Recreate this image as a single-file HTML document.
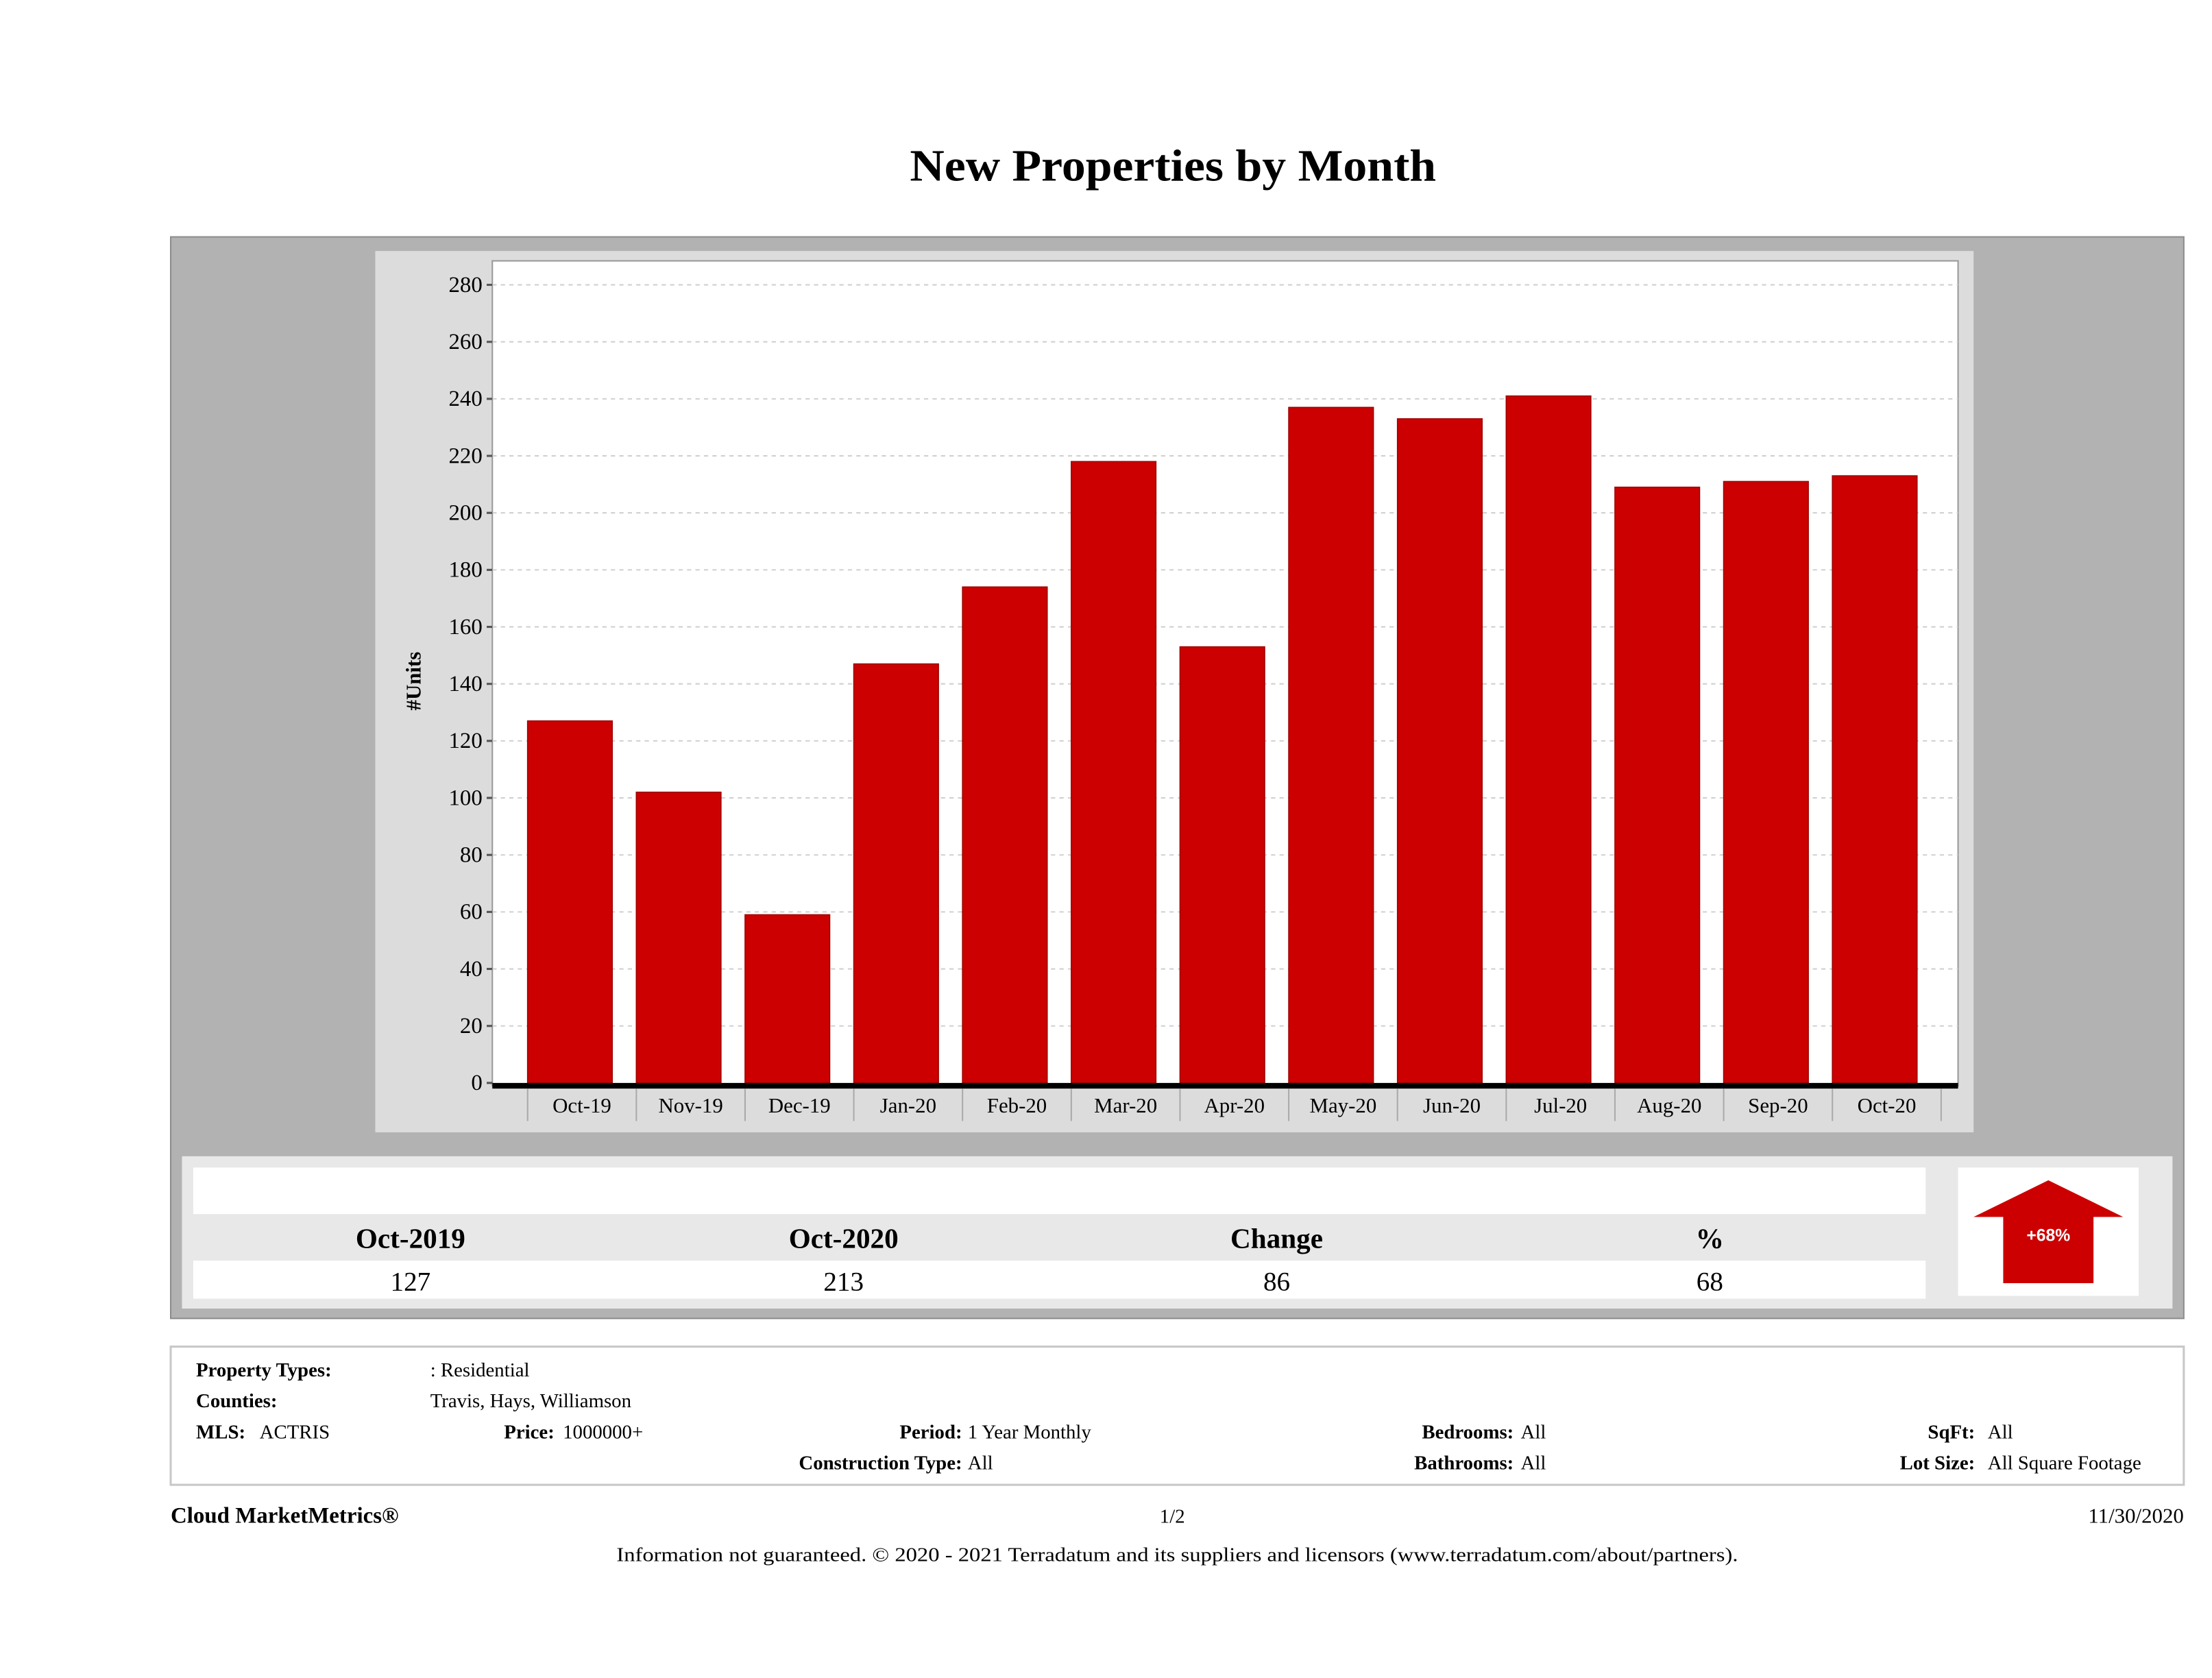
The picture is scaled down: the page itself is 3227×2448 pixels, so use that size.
<!DOCTYPE html>
<html><head><meta charset="utf-8"><style>
html,body{margin:0;padding:0;background:#fff;}
svg{display:block;font-family:"Liberation Serif",serif;}
</style></head><body>
<svg id="chart" width="3227" height="2448" viewBox="0 0 1568 1190" preserveAspectRatio="none" xmlns="http://www.w3.org/2000/svg">
<text x="645" y="128" textLength="373" lengthAdjust="spacingAndGlyphs" font-size="32" font-weight="bold">New Properties by Month</text>
<rect x="121" y="168" width="1427" height="767" fill="#b2b2b2" stroke="#8c8c8c" stroke-width="1"/>
<rect x="266" y="178" width="1133" height="625" fill="#dcdcdc"/>
<rect x="349" y="185" width="1039" height="585" fill="#fff" stroke="#999" stroke-width="1"/>
<g id="grid"></g>
<g id="bars"></g>
<g id="xaxis"></g>
<text transform="translate(298,483) rotate(-90)" text-anchor="middle" font-size="15" font-weight="bold">#Units</text>

<rect x="129" y="820" width="1411" height="108" fill="#e8e8e8"/>
<rect x="137" y="828" width="1228" height="33" fill="#fff"/>
<rect x="137" y="894" width="1228" height="27" fill="#fff"/>
<g font-size="20" font-weight="bold" text-anchor="middle">
<text x="291" y="885">Oct-2019</text>
<text x="598" y="885">Oct-2020</text>
<text x="905" y="885">Change</text>
<text x="1212" y="885">%</text>
</g>
<g font-size="19" text-anchor="middle">
<text x="291" y="915">127</text>
<text x="598" y="915">213</text>
<text x="905" y="915">86</text>
<text x="1212" y="915">68</text>
</g>
<rect x="1388" y="828" width="128" height="91" fill="#fff"/>
<polygon points="1452,837 1505,863 1484,863 1484,910 1420,910 1420,863 1399,863" fill="#cc0000"/>
<text x="1452" y="880" text-anchor="middle" font-size="12" font-weight="bold" fill="#fff" font-family="Liberation Sans, sans-serif">+68%</text>

<rect x="121" y="955" width="1427" height="98" fill="#fff" stroke="#c8c8c8" stroke-width="1.5"/>
<g font-size="14">
<text x="139" y="976" font-weight="bold">Property Types:</text>
<text x="305" y="976">: Residential</text>
<text x="139" y="998" font-weight="bold">Counties:</text>
<text x="305" y="998">Travis, Hays, Williamson</text>
<text x="139" y="1020" font-weight="bold">MLS:</text>
<text x="184" y="1020">ACTRIS</text>
<text x="393" y="1020" font-weight="bold" text-anchor="end">Price:</text>
<text x="399" y="1020">1000000+</text>
<text x="682" y="1020" font-weight="bold" text-anchor="end">Period:</text>
<text x="686" y="1020">1 Year Monthly</text>
<text x="682" y="1042" font-weight="bold" text-anchor="end">Construction Type:</text>
<text x="686" y="1042">All</text>
<text x="1073" y="1020" font-weight="bold" text-anchor="end">Bedrooms:</text>
<text x="1078" y="1020">All</text>
<text x="1073" y="1042" font-weight="bold" text-anchor="end">Bathrooms:</text>
<text x="1078" y="1042">All</text>
<text x="1400" y="1020" font-weight="bold" text-anchor="end">SqFt:</text>
<text x="1409" y="1020">All</text>
<text x="1400" y="1042" font-weight="bold" text-anchor="end">Lot Size:</text>
<text x="1409" y="1042">All Square Footage</text>
</g>
<text x="121" y="1080" font-size="16" font-weight="bold">Cloud MarketMetrics®</text>
<text x="831" y="1080" font-size="14" text-anchor="middle">1/2</text>
<text x="1548" y="1080" font-size="15" text-anchor="end">11/30/2020</text>
<text x="437" y="1107" textLength="795" lengthAdjust="spacingAndGlyphs" font-size="14">Information not guaranteed. © 2020 - 2021 Terradatum and its suppliers and licensors (www.terradatum.com/about/partners).</text>
</svg>
<script>
const categories = ["Oct-19","Nov-19","Dec-19","Jan-20","Feb-20","Mar-20","Apr-20","May-20","Jun-20","Jul-20","Aug-20","Sep-20","Oct-20"];
const newProperties = [127,102,59,147,174,218,153,237,233,241,209,211,213];
const yTicks = [0,20,40,60,80,100,120,140,160,180,200,220,240,260,280];

const NS = "http://www.w3.org/2000/svg";
const plotL = 349, plotR = 1388, y0 = 768, y280 = 202;
const bandStart = 374, bandEnd = 1376;
const bandW = (bandEnd - bandStart) / categories.length;
const barW = 60;
function yScale(v){ return y0 - (v/280)*(y0 - y280); }
function xBand(i){ return bandStart + i*bandW; }
function mk(tag, attrs, parent){ const e=document.createElementNS(NS,tag); for(const k in attrs) e.setAttribute(k, attrs[k]); parent.appendChild(e); return e; }

const grid = document.getElementById('grid');
yTicks.forEach(t=>{
  const y = yScale(t);
  if (t>0){
    const gl = mk('line',{x1:plotL,x2:plotR,y1:y,y2:y,stroke:'#d0d0d0','stroke-dasharray':'3,3','stroke-width':1},grid);
    
    
  }
  const tk = mk('line',{x1:plotL-4,x2:plotL,y1:y,y2:y,stroke:'#555','stroke-width':1.5},grid);
  
  
  const lb = mk('text',{x:plotL-7,y:y+5,'text-anchor':'end','font-size':16},grid);
  lb.textContent = t;
  
  
});

const bars = document.getElementById('bars');
newProperties.forEach((v,i)=>{
  const y = yScale(v);
  const r = mk('rect',{x:xBand(i),y:y,width:barW,height:y0-y,fill:'#cc0000',stroke:'#a00000','stroke-width':0.8},bars);
  
  
});

const xa = document.getElementById('xaxis');
const axisLine = mk('rect',{x:plotL,y:768,width:plotR-plotL,height:4,fill:'#000'},xa);


for(let i=0;i<=categories.length;i++){
  const x = xBand(i);
  const s = mk('line',{x1:x,x2:x,y1:772,y2:795,stroke:'#aaa','stroke-width':1},xa);
  
  
}
categories.forEach((c,i)=>{
  const t = mk('text',{x:xBand(i)+bandW/2,y:789,'text-anchor':'middle','font-size':15},xa);
  t.textContent = c;
  
  
});
</script>
</body></html>
